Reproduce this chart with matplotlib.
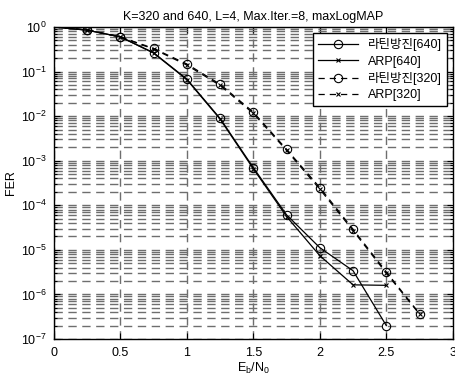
import matplotlib
matplotlib.use("Agg")
import matplotlib.pyplot as plt
from matplotlib.ticker import LogLocator, NullFormatter

plt.rcParams['font.family'] = ['Liberation Sans', 'Noto Sans CJK KR', 'DejaVu Sans']
plt.rcParams['mathtext.default'] = 'regular'

# Eb/N0 points
ebn0_640 = [0, 0.25, 0.5, 0.75, 1.0, 1.25, 1.5, 1.75, 2.0, 2.25, 2.5]
ebn0_320 = [0, 0.25, 0.5, 0.75, 1.0, 1.25, 1.5, 1.75, 2.0, 2.25, 2.5, 2.75]

# FER values
latin_640 = [1.0, 0.85, 0.6, 0.265, 0.068, 0.0089, 7.0e-4, 6.1e-5, 1.12e-5, 3.4e-6, 2.0e-7]
arp_640 = [1.0, 0.85, 0.6, 0.26, 0.066, 0.0086, 6.6e-4, 5.6e-5, 7.4e-6, 1.64e-6, 1.6e-6]
latin_320 = [1.0, 0.86, 0.6, 0.33, 0.148, 0.052, 0.0123, 0.0018, 2.5e-4, 2.9e-5, 3.2e-6, 3.7e-7]
arp_320 = [1.0, 0.86, 0.6, 0.32, 0.14, 0.049, 0.0115, 0.0017, 2.3e-4, 2.7e-5, 3.0e-6, 3.6e-7]

labels = ['라틴방진[640]', 'ARP[640]', '라틴방진[320]', 'ARP[320]']
x_ticks = [0, 0.5, 1, 1.5, 2, 2.5, 3]

fig = plt.figure(figsize=(4.56, 3.75), dpi=100)
ax = fig.add_axes([0.118, 0.096, 0.875, 0.832])

mk = dict(markerfacecolor='none', markeredgecolor='black', markevery=slice(1, None))
ax.semilogy(ebn0_640, latin_640, '-', color='black', lw=0.9, marker='o', ms=6, mew=0.8, label=labels[0], **mk)
ax.semilogy(ebn0_640, arp_640, '-', color='black', lw=0.9, marker='x', ms=3.5, mew=0.8, label=labels[1], **mk)
ax.semilogy(ebn0_320, latin_320, '--', color='black', lw=0.9, marker='o', ms=6, mew=0.8,
            dashes=(5, 4), label=labels[2], **mk)
ax.semilogy(ebn0_320, arp_320, '--', color='black', lw=0.9, marker='x', ms=3.5, mew=0.8,
            dashes=(5, 4), label=labels[3], **mk)

ax.set_xlim(0, 3)
ax.set_ylim(1e-7, 1)
ax.set_xticks(x_ticks)
ax.set_xticklabels([f'{t:g}' for t in x_ticks])
ax.yaxis.set_major_locator(LogLocator(base=10, numticks=10))
ax.yaxis.set_minor_locator(LogLocator(base=10, subs=range(2, 10), numticks=100))
ax.yaxis.set_minor_formatter(NullFormatter())
ax.xaxis.get_offset_text().set_visible(False)
ax.yaxis.get_offset_text().set_visible(False)

ax.grid(True, which='major', axis='x', color='#6e6e6e', linestyle=(0, (6, 4)), lw=1.0)
ax.grid(True, which='both', axis='y', color='#6e6e6e', linestyle=(0, (6, 4)), lw=1.0)

ax.tick_params(which='both', direction='in', top=True, right=True, labelsize=9, width=0.8)
ax.tick_params(which='major', length=4)
ax.tick_params(which='minor', length=2)
ax.tick_params(axis='x', pad=6)
ax.tick_params(axis='y', pad=5)
for s in ax.spines.values():
    s.set_linewidth(1.0)

ax.set_title('K=320 and 640, L=4, Max.Iter.=8, maxLogMAP', fontsize=9, pad=5)
ax.set_xlabel('E$_b$/N$_0$', fontsize=9, labelpad=1)
ax.set_ylabel('FER', fontsize=9, labelpad=3)

leg = ax.legend(loc='upper right', fontsize=9, frameon=True, fancybox=False,
                edgecolor='black', framealpha=1, handlelength=3.2, borderpad=0.4,
                labelspacing=0.35, borderaxespad=0.5)
leg.get_frame().set_linewidth(1.0)

fig.savefig('out.png', dpi=100)
